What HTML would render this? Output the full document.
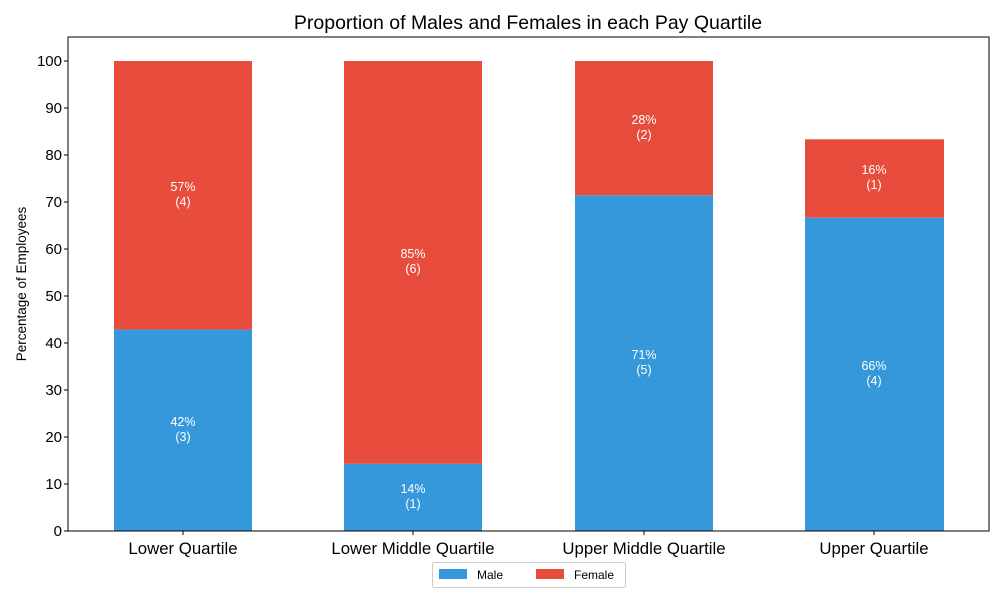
<!DOCTYPE html>
<html><head><meta charset="utf-8"><style>
body{margin:0;background:#fff;}
svg text{font-family:"Liberation Sans",sans-serif;}
</style></head><body>
<svg width="1000" height="600" xmlns="http://www.w3.org/2000/svg">
<rect width="1000" height="600" fill="#fff"/>
<text x="528" y="29" font-size="19.5" text-anchor="middle" fill="#000">Proportion of Males and Females in each Pay Quartile</text>
<g>
<rect x="114" y="329.6" width="138" height="201.4" fill="#3498db"/>
<rect x="114" y="61" width="138" height="268.6" fill="#e74c3c"/>
<rect x="344" y="463.8" width="138" height="67.2" fill="#3498db"/>
<rect x="344" y="61" width="138" height="402.8" fill="#e74c3c"/>
<rect x="575" y="195.3" width="138" height="335.7" fill="#3498db"/>
<rect x="575" y="61" width="138" height="134.3" fill="#e74c3c"/>
<rect x="805" y="217.7" width="139" height="313.3" fill="#3498db"/>
<rect x="805" y="139.3" width="139" height="78.4" fill="#e74c3c"/>
</g>
<g font-size="12.5" fill="#fff" text-anchor="middle">
<text x="183" y="426">42%</text><text x="183" y="441">(3)</text>
<text x="183" y="191">57%</text><text x="183" y="206">(4)</text>
<text x="413" y="493">14%</text><text x="413" y="508">(1)</text>
<text x="413" y="258">85%</text><text x="413" y="273">(6)</text>
<text x="644" y="359">71%</text><text x="644" y="374">(5)</text>
<text x="644" y="124">28%</text><text x="644" y="139">(2)</text>
<text x="874" y="370">66%</text><text x="874" y="385">(4)</text>
<text x="874" y="174">16%</text><text x="874" y="189">(1)</text>
</g>
<rect x="68" y="37" width="921" height="494" fill="none" stroke="#000" stroke-width="1"/>
<g font-size="15" fill="#000" text-anchor="end">
<text x="62" y="536">0</text><text x="62" y="489">10</text><text x="62" y="442">20</text>
<text x="62" y="395">30</text><text x="62" y="348">40</text><text x="62" y="301">50</text>
<text x="62" y="254">60</text><text x="62" y="207">70</text><text x="62" y="160">80</text>
<text x="62" y="113">90</text><text x="62" y="66">100</text>
</g>
<g stroke="#000">
<line x1="64" x2="68" y1="531" y2="531"/><line x1="64" x2="68" y1="484" y2="484"/>
<line x1="64" x2="68" y1="437" y2="437"/><line x1="64" x2="68" y1="390" y2="390"/>
<line x1="64" x2="68" y1="343" y2="343"/><line x1="64" x2="68" y1="296" y2="296"/>
<line x1="64" x2="68" y1="249" y2="249"/><line x1="64" x2="68" y1="202" y2="202"/>
<line x1="64" x2="68" y1="155" y2="155"/><line x1="64" x2="68" y1="108" y2="108"/>
<line x1="64" x2="68" y1="61" y2="61"/>
<line x1="183" x2="183" y1="531" y2="535"/><line x1="413" x2="413" y1="531" y2="535"/>
<line x1="644" x2="644" y1="531" y2="535"/><line x1="874" x2="874" y1="531" y2="535"/>
</g>
<g font-size="16.8" fill="#000" text-anchor="middle">
<text x="183" y="554">Lower Quartile</text>
<text x="413" y="554">Lower Middle Quartile</text>
<text x="644" y="554">Upper Middle Quartile</text>
<text x="874" y="554">Upper Quartile</text>
</g>
<text transform="translate(26,284) rotate(-90)" font-size="13.5" text-anchor="middle" fill="#000">Percentage of Employees</text>
<rect x="432.5" y="562.5" width="193" height="25" fill="#fff" stroke="#ccc" rx="2"/>
<rect x="439" y="569" width="28" height="10" fill="#3498db"/>
<text x="477" y="579" font-size="12" fill="#000">Male</text>
<rect x="536" y="569" width="28" height="10" fill="#e74c3c"/>
<text x="574" y="579" font-size="12" fill="#000">Female</text>
</svg>
</body></html>
